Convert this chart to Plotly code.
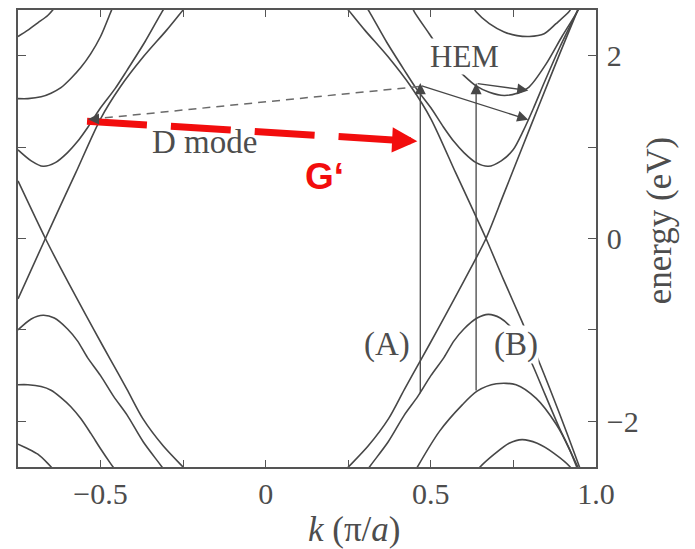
import plotly.graph_objects as go

# ---- band energies E(k) read along each branch; k in units of pi/a, E in eV ----
# left-hand branches (k < -0.25)
c1_up_k = [-0.75, -0.72, -0.69, -0.66, -0.64]
c1_up_E = [2.21, 2.28, 2.36, 2.44, 2.52]
c1_dn_k = [-0.75, -0.72, -0.69, -0.66, -0.635]
c1_dn_E = [-2.25, -2.30, -2.36, -2.46, -2.56]

c2_up_k = [-0.75, -0.72, -0.68, -0.65, -0.62, -0.59, -0.56, -0.53, -0.50, -0.47, -0.46]
c2_up_E = [1.53, 1.53, 1.55, 1.59, 1.65, 1.75, 1.87, 2.02, 2.21, 2.47, 2.56]
c2_dn_k = [-0.75, -0.72, -0.68, -0.65, -0.62, -0.59, -0.56, -0.53, -0.50, -0.47, -0.45]
c2_dn_E = [-1.60, -1.60, -1.62, -1.66, -1.74, -1.84, -1.97, -2.13, -2.30, -2.46, -2.56]

c3_up_k = [-0.75, -0.71, -0.674, -0.637, -0.60, -0.57, -0.538, -0.50, -0.456, -0.42, -0.366, -0.314, -0.30]
c3_up_E = [0.97, 0.85, 0.79, 0.83, 0.94, 1.06, 1.22, 1.43, 1.64, 1.84, 2.15, 2.48, 2.56]
c3_dn_k = [-0.75, -0.71, -0.674, -0.64, -0.60, -0.57, -0.54, -0.50, -0.46, -0.42, -0.37, -0.31, -0.30]
c3_dn_E = [-1.00, -0.88, -0.84, -0.87, -0.99, -1.12, -1.30, -1.50, -1.73, -1.93, -2.23, -2.52, -2.58]

la_k = [-0.75, -0.667, -0.62, -0.575, -0.50, -0.44, -0.37, -0.30, -0.25, -0.24]
la_E = [-0.66, 0.0, 0.37, 0.72, 1.31, 1.66, 1.99, 2.28, 2.50, 2.54]
lb_k = [-0.75, -0.667, -0.62, -0.571, -0.52, -0.471, -0.42, -0.372, -0.31, -0.245, -0.235]
lb_E = [0.63, 0.0, -0.33, -0.66, -1.00, -1.32, -1.65, -1.97, -2.27, -2.52, -2.56]

# right-hand branches (k > 0.25)
ra_k = [0.24, 0.25, 0.30, 0.37, 0.44, 0.50, 0.575, 0.62, 0.667, 0.72, 0.776, 0.83, 0.89, 0.945, 0.955]
ra_E = [2.54, 2.50, 2.28, 1.99, 1.66, 1.31, 0.72, 0.37, 0.0, -0.45, -0.91, -1.37, -1.92, -2.45, -2.55]
rb_k = [0.235, 0.245, 0.31, 0.372, 0.42, 0.471, 0.52, 0.571, 0.62, 0.667, 0.72, 0.776, 0.83, 0.89, 0.945, 0.952]
rb_E = [-2.56, -2.52, -2.27, -1.97, -1.65, -1.32, -1.00, -0.66, -0.33, 0.0, 0.48, 0.99, 1.48, 2.02, 2.50, 2.56]

c3r_up_k = [0.30, 0.314, 0.366, 0.42, 0.456, 0.50, 0.538, 0.57, 0.60, 0.637, 0.674, 0.713, 0.749,
            0.78, 0.81, 0.845, 0.89, 0.945, 0.952]
c3r_up_E = [2.56, 2.48, 2.15, 1.84, 1.64, 1.43, 1.22, 1.06, 0.94, 0.83, 0.79, 0.85, 0.97,
            1.18, 1.42, 1.72, 2.09, 2.50, 2.56]
c3r_dn_k = [0.30, 0.31, 0.37, 0.42, 0.46, 0.50, 0.54, 0.57, 0.60, 0.64, 0.674, 0.71, 0.75,
            0.78, 0.81, 0.845, 0.89, 0.945, 0.955]
c3r_dn_E = [-2.58, -2.52, -2.23, -1.93, -1.73, -1.50, -1.30, -1.12, -0.99, -0.87, -0.83, -0.87, -1.00,
            -1.17, -1.40, -1.70, -2.08, -2.50, -2.58]

c2r_up_k = [0.445, 0.450, 0.495, 0.541, 0.601, 0.637, 0.677, 0.722, 0.761, 0.798, 0.849, 0.897, 0.943, 0.95]
c2r_up_E = [2.52, 2.48, 2.24, 2.00, 1.78, 1.67, 1.60, 1.565, 1.59, 1.66, 1.91, 2.21, 2.48, 2.53]
c2r_dn_k = [0.45, 0.456, 0.526, 0.595, 0.640, 0.698, 0.758, 0.819, 0.879, 0.918, 0.943, 0.95]
c2r_dn_E = [-2.56, -2.52, -2.11, -1.82, -1.67, -1.59, -1.60, -1.75, -2.03, -2.29, -2.51, -2.56]

c1r_up_k = [0.63, 0.637, 0.677, 0.722, 0.761, 0.798, 0.843, 0.879, 0.918, 0.925]
c1r_up_E = [2.52, 2.48, 2.35, 2.26, 2.22, 2.21, 2.24, 2.35, 2.48, 2.52]
c1r_dn_k = [0.63, 0.644, 0.692, 0.737, 0.776, 0.822, 0.873, 0.924, 0.93]
c1r_dn_E = [-2.60, -2.52, -2.36, -2.24, -2.20, -2.24, -2.35, -2.51, -2.56]

bands = [
    (c1_up_k, c1_up_E), (c1_dn_k, c1_dn_E), (c2_up_k, c2_up_E), (c2_dn_k, c2_dn_E),
    (c3_up_k, c3_up_E), (c3_dn_k, c3_dn_E), (la_k, la_E), (lb_k, lb_E),
    (ra_k, ra_E), (rb_k, rb_E), (c3r_up_k, c3r_up_E), (c3r_dn_k, c3r_dn_E),
    (c2r_up_k, c2r_up_E), (c2r_dn_k, c2r_dn_E), (c1r_up_k, c1r_up_E), (c1r_dn_k, c1r_dn_E),
]

# ---- optical transitions and phonon scattering (k, E) ----
trans_A_k, trans_A_E = 0.468, (-1.71, 1.70)
trans_B_k, trans_B_E = 0.637, (-1.68, 1.70)
hem_from = [(0.468, 1.674), (0.637, 1.696)]
hem_to = [(0.795, 1.30), (0.795, 1.62)]
dmode_from, dmode_to = (0.465, 1.663), (-0.538, 1.304)
gprime_from, gprime_shaft_end, gprime_tip = (-0.541, 1.283), (0.396, 1.076), (0.459, 1.065)

x_ticks = [-0.5, 0, 0.5, 1.0]
x_ticktext = ["\u22120.5", "0", "0.5", "1.0"]
x_minor = [-0.75, -0.25, 0.25, 0.75]
y_ticks = [-2, 0, 2]
y_ticktext = ["\u22122", "0", "2"]
y_minor = [-1, 1]

CURVE = "#474747"
AXIS = "#555555"
TEXT = "#4d4d4d"
RED = "#f20d0d"
SERIF = "Liberation Serif, Times New Roman, serif"

fig = go.Figure()
for k, E in bands:
    fig.add_trace(go.Scatter(x=k, y=E, mode="lines", hoverinfo="skip", showlegend=False,
                             line=dict(color=CURVE, width=1.6, shape="spline", smoothing=0.8)))

# dashed D-mode scattering path
fig.add_trace(go.Scatter(x=[dmode_from[0], dmode_to[0] + 0.012], y=[dmode_from[1], dmode_to[1] + 0.002],
                         mode="lines", hoverinfo="skip", showlegend=False,
                         line=dict(color="#6a6a6a", width=1.5, dash="8px,6px")))
# thick red dashed G' path
fig.add_trace(go.Scatter(x=[gprime_from[0], gprime_shaft_end[0]], y=[gprime_from[1], gprime_shaft_end[1]],
                         mode="lines", hoverinfo="skip", showlegend=False,
                         line=dict(color=RED, width=7, dash="60px,24px")))

ann = []


def arrow(tip, tail, color=CURVE, width=1.3, head=2, size=1.7):
    ann.append(dict(x=tip[0], y=tip[1], ax=tail[0], ay=tail[1], xref="x", yref="y",
                    axref="x", ayref="y", text="", showarrow=True, arrowhead=head,
                    arrowsize=size, arrowwidth=width, arrowcolor=color))


arrow((trans_A_k, trans_A_E[1]), (trans_A_k, trans_A_E[0]))
arrow((trans_B_k, trans_B_E[1]), (trans_B_k, trans_B_E[0]))
for a, b in zip(hem_from, hem_to):
    arrow(b, a)
arrow(dmode_to, (dmode_to[0] + 0.04, dmode_to[1] + 0.004))
arrow(gprime_tip, gprime_shaft_end, color=RED, width=7, head=2, size=0.72)


def label(text, x, y, size, bg=None, **kw):
    d = dict(x=x, y=y, xref="x", yref="y", text=text, showarrow=False,
             font=dict(family=SERIF, size=size, color=TEXT))
    if bg:
        d.update(bgcolor=bg, borderpad=0)
    d.update(kw)
    ann.append(d)


label("D mode", -0.184, 1.06, 33)
label("HEM", 0.601, 1.99, 31, bg="white")
label("(A)", 0.366, -1.16, 33, bg="white")
label("(B)", 0.758, -1.16, 33, bg="white")
ann.append(dict(x=0.112, y=0.674, xref="x", yref="y", xanchor="left", text="<b>G\u2018</b>",
                showarrow=False, font=dict(family="Liberation Sans, Arial, sans-serif", size=37, color=RED)))

# axis titles
ann.append(dict(x=0.583, y=-0.137, xref="paper", yref="paper", xanchor="center", yanchor="middle",
                text="<i>k</i> (\u03c0/<i>a</i>)",
                showarrow=False, font=dict(family=SERIF, size=35, color=TEXT)))
ann.append(dict(x=1.110, y=0.539, xref="paper", yref="paper", xanchor="center", yanchor="middle",
                text="energy (eV)", textangle=-90,
                showarrow=False, font=dict(family=SERIF, size=35, color=TEXT)))

fig.update_layout(
    width=695, height=549,
    margin=dict(l=18, r=99, t=8, b=82),
    paper_bgcolor="white", plot_bgcolor="white",
    annotations=ann,
    showlegend=False,
    xaxis=dict(range=[-0.75, 1.0], showgrid=False, zeroline=False,
               showline=True, linecolor=AXIS, linewidth=1.5, mirror="ticks",
               ticks="inside", ticklen=7, tickwidth=1.4, tickcolor=AXIS,
               tickvals=x_ticks, ticktext=x_ticktext, ticklabelstandoff=-1,
               tickfont=dict(family=SERIF, size=30, color=TEXT),
               minor=dict(tickvals=x_minor, ticks="inside", ticklen=7, tickwidth=1.4, tickcolor=AXIS)),
    yaxis=dict(range=[-2.5, 2.5], side="right", showgrid=False, zeroline=False,
               showline=True, linecolor=AXIS, linewidth=1.5, mirror="ticks",
               ticks="inside", ticklen=8, tickwidth=1.4, tickcolor=AXIS,
               tickvals=y_ticks, ticktext=y_ticktext, ticklabelstandoff=3,
               tickfont=dict(family=SERIF, size=30, color=TEXT),
               minor=dict(tickvals=y_minor, ticks="inside", ticklen=8, tickwidth=1.4, tickcolor=AXIS)),
)

fig.write_html("out.html")
